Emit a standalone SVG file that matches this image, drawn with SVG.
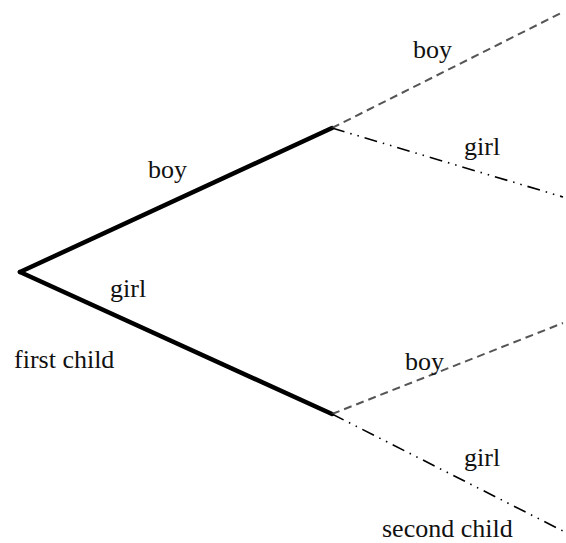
<svg xmlns="http://www.w3.org/2000/svg" width="566" height="543" viewBox="0 0 566 543">
<style>
.t{font-family:"Liberation Serif","Times New Roman",serif;font-size:26px;fill:#111}
.thick{stroke:#000;stroke-width:4.5;fill:none;stroke-linecap:round}
.dash{stroke:#555;stroke-width:2;fill:none;stroke-dasharray:8 5}
.dd{stroke:#000;stroke-width:1.6;fill:none;stroke-dasharray:13 6 1.5 6 1.5 6}
</style>
<rect width="566" height="543" fill="#fff"/>
<g id="connectors">
<line class="thick" x1="20" y1="272" x2="332" y2="128"/>
<line class="thick" x1="20" y1="272" x2="332" y2="414"/>
<line class="dash" x1="332" y1="128" x2="563" y2="12"/>
<line class="dd" x1="332" y1="128" x2="563" y2="197"/>
<line class="dash" x1="332" y1="414" x2="563" y2="323"/>
<line class="dd" x1="332" y1="414" x2="563" y2="531"/>
</g>
<g id="labels">
<text class="t" x="148" y="178">boy</text>
<text class="t" x="110" y="297">girl</text>
<text class="t" x="14" y="368">first child</text>
<text class="t" x="413" y="58">boy</text>
<text class="t" x="464" y="155">girl</text>
<text class="t" x="405" y="370">boy</text>
<text class="t" x="464" y="466">girl</text>
<text class="t" x="382" y="537">second child</text>
</g>
</svg>
